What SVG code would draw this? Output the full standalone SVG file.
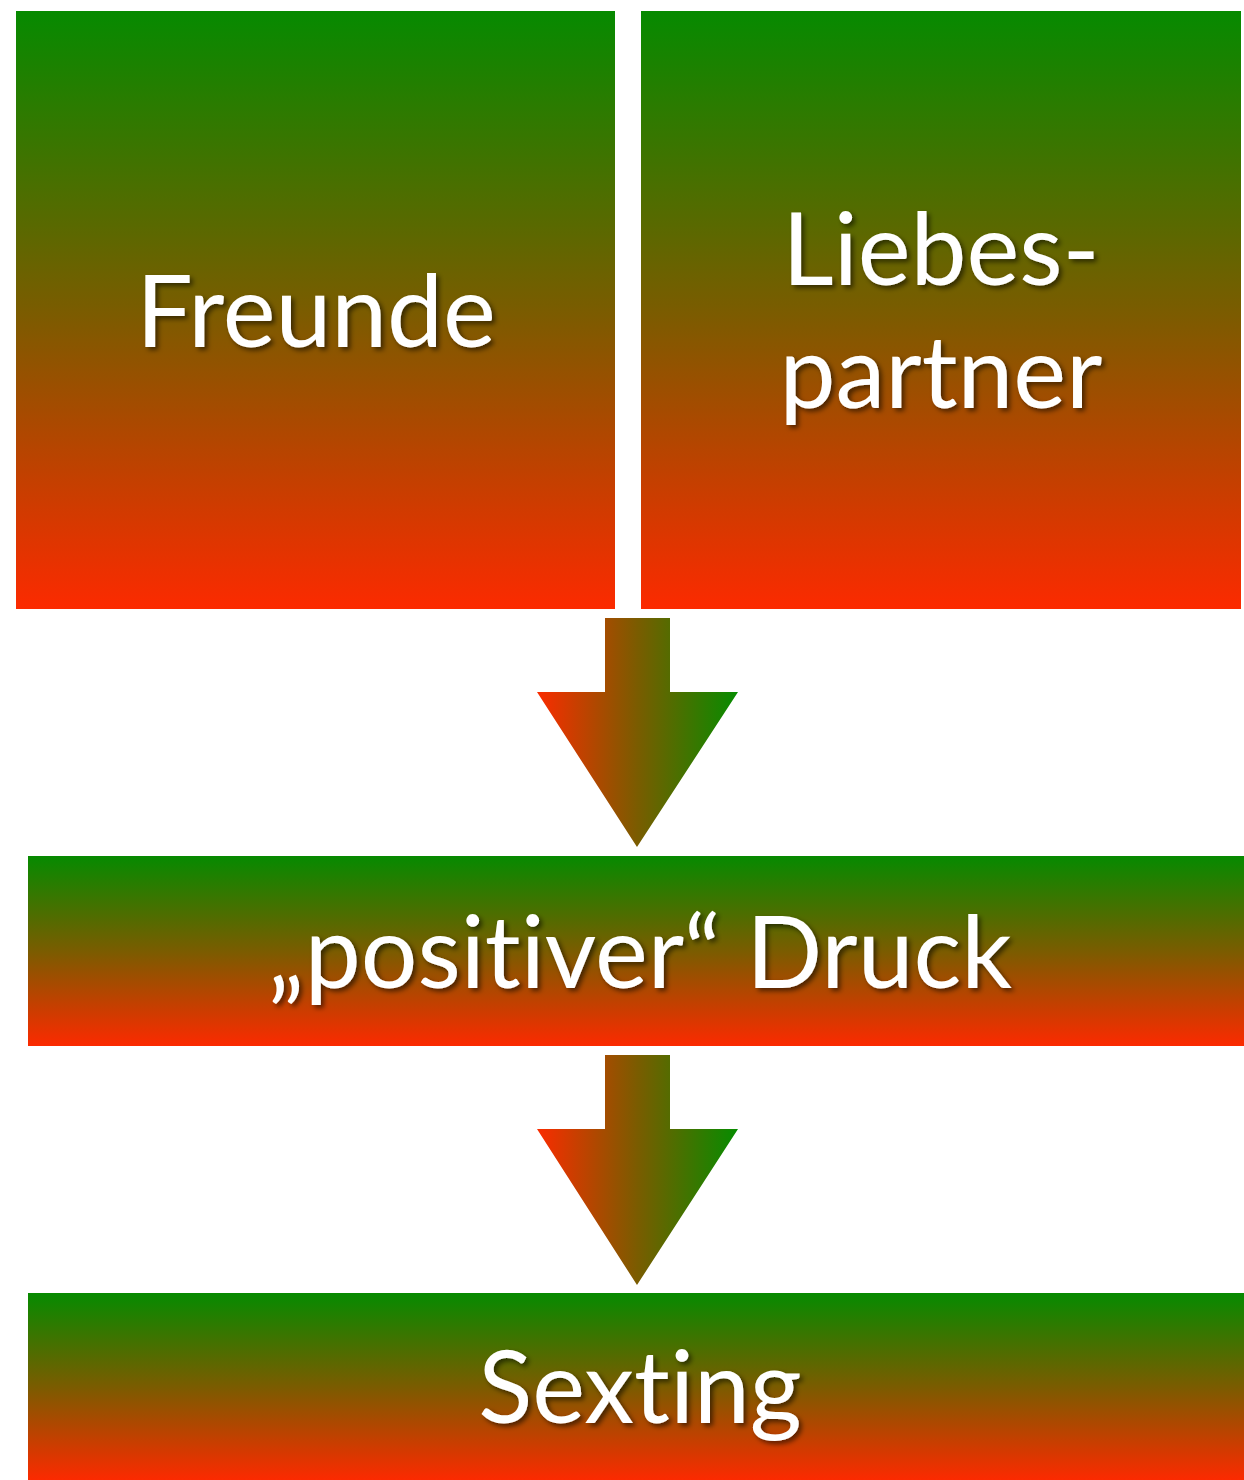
<svg xmlns="http://www.w3.org/2000/svg" width="1244" height="1480" viewBox="0 0 1244 1480">
<defs>
<linearGradient id="gv" x1="0" y1="0" x2="0" y2="1">
<stop offset="0" stop-color="#068a00"/>
<stop offset="0.5" stop-color="#7a5c00"/>
<stop offset="1" stop-color="#fc2a00"/>
</linearGradient>
<linearGradient id="gh" gradientUnits="objectBoundingBox" x1="0" y1="0" x2="1" y2="0">
<stop offset="0" stop-color="#fa2c00"/>
<stop offset="0.5" stop-color="#7a5c00"/>
<stop offset="1" stop-color="#068c00"/>
</linearGradient>
<filter id="sh" x="-10%" y="-20%" width="120%" height="140%">
<feDropShadow dx="3" dy="3" stdDeviation="2.5" flood-color="#000" flood-opacity="0.55"/>
</filter>
</defs>
<style>
.box{fill:url(#gv)}
.arr{fill:url(#gh)}
.t{font-family:Lato,"Open Sans","Liberation Sans",sans-serif;font-size:100px;fill:#fff;text-anchor:middle;filter:url(#sh);font-variant-ligatures:none;font-feature-settings:"liga" 0,"clig" 0}
</style>
<rect width="1244" height="1480" fill="#fff"/>
<g id="freunde">
<rect class="box" x="16" y="11" width="599" height="598"/>
<text class="t" x="316" y="347">Freunde</text>
</g>
<g id="liebespartner">
<rect class="box" x="641" y="11" width="600" height="598"/>
<text class="t" x="941" y="285">Liebes-</text>
<text class="t" x="941" y="408">partner</text>
</g>
<g id="druck">
<rect class="box" x="28" y="856" width="1216" height="190"/>
<text class="t" x="640" y="988">„positiver“ Druck</text>
</g>
<g id="sexting">
<rect class="box" x="28" y="1293" width="1216" height="187"/>
<text class="t" x="640" y="1423">Sexting</text>
</g>
<g id="connectors">
<polygon class="arr" points="605,618 670,618 670,692 738,692 637,847 537,692 605,692"/>
<polygon class="arr" points="605,1055 670,1055 670,1129 738,1129 637,1285 537,1129 605,1129"/>
</g>
</svg>
